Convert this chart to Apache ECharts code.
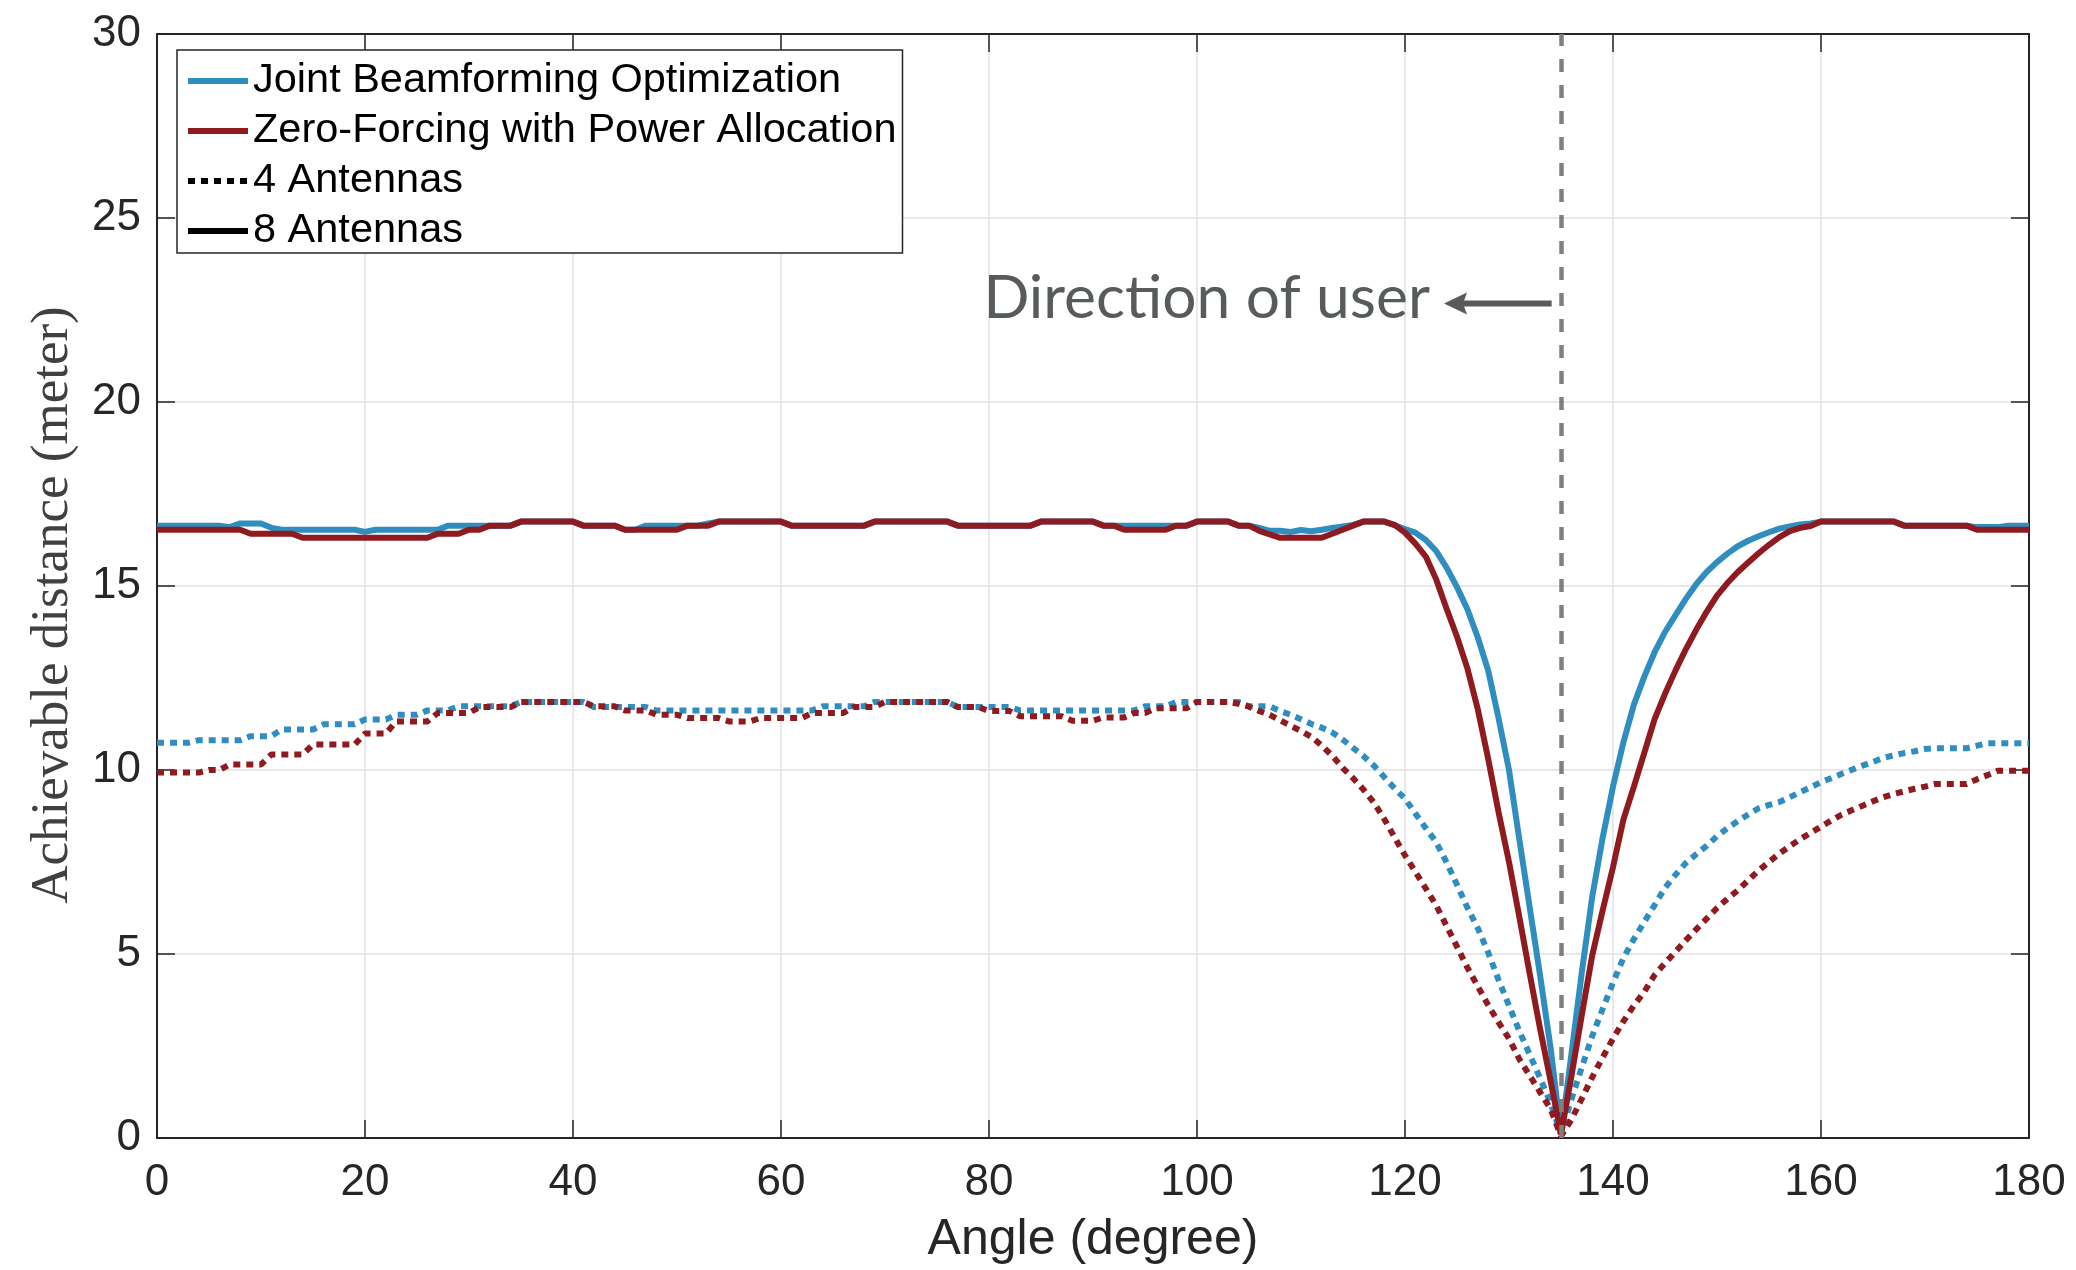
<!DOCTYPE html>
<html>
<head>
<meta charset="utf-8">
<script src="https://cdn.jsdelivr.net/npm/echarts@6/dist/echarts.min.js"></script>
<style>
html, body { margin: 0; padding: 0; background: #fff; }
#chart { width: 2076px; height: 1270px; }
</style>
</head>
<body>
<div id="chart"></div>
<script>
// x grid: one sample per degree, 0 .. 180
const angles = Array.from({ length: 181 }, (_, i) => i)

// Joint Beamforming Optimization, 8 antennas (blue solid)
const jbo8 = [
  16.64, 16.64, 16.64, 16.64, 16.64, 16.64, 16.64, 16.6, 16.7, 16.7,
  16.7, 16.58, 16.53, 16.53, 16.53, 16.53, 16.53, 16.53, 16.53, 16.53,
  16.47, 16.53, 16.53, 16.53, 16.53, 16.53, 16.53, 16.53, 16.64, 16.64,
  16.64, 16.64, 16.64, 16.64, 16.64, 16.75, 16.75, 16.75, 16.75, 16.75,
  16.75, 16.64, 16.64, 16.64, 16.64, 16.53, 16.53, 16.64, 16.64, 16.64,
  16.64, 16.64, 16.64, 16.7, 16.75, 16.75, 16.75, 16.75, 16.75, 16.75,
  16.75, 16.64, 16.64, 16.64, 16.64, 16.64, 16.64, 16.64, 16.64, 16.75,
  16.75, 16.75, 16.75, 16.75, 16.75, 16.75, 16.75, 16.64, 16.64, 16.64,
  16.64, 16.64, 16.64, 16.64, 16.64, 16.75, 16.75, 16.75, 16.75, 16.75,
  16.75, 16.64, 16.64, 16.64, 16.64, 16.64, 16.64, 16.64, 16.64, 16.64,
  16.75, 16.75, 16.75, 16.75, 16.64, 16.64, 16.58, 16.5, 16.5, 16.47,
  16.52, 16.49, 16.53, 16.58, 16.62, 16.66, 16.75, 16.75, 16.75, 16.65,
  16.55, 16.45, 16.25, 15.95, 15.5, 14.97, 14.37, 13.6, 12.7, 11.4,
  10.0, 8.1, 6.25, 4.4, 2.45, 0.1, 2.27, 4.5, 6.55, 8.15,
  9.55, 10.75, 11.77, 12.53, 13.2, 13.75, 14.2, 14.65, 15.05, 15.38,
  15.65, 15.88, 16.08, 16.23, 16.35, 16.46, 16.56, 16.62, 16.67, 16.7,
  16.75, 16.75, 16.75, 16.75, 16.75, 16.75, 16.75, 16.75, 16.64, 16.64,
  16.64, 16.64, 16.64, 16.64, 16.64, 16.6, 16.6, 16.6, 16.64, 16.64,
  16.64
]

// Zero-Forcing with Power Allocation, 8 antennas (red solid)
const zf8 = [
  16.53, 16.53, 16.53, 16.53, 16.53, 16.53, 16.53, 16.53, 16.53, 16.42,
  16.42, 16.42, 16.42, 16.42, 16.31, 16.31, 16.31, 16.31, 16.31, 16.31,
  16.31, 16.31, 16.31, 16.31, 16.31, 16.31, 16.31, 16.42, 16.42, 16.42,
  16.53, 16.53, 16.64, 16.64, 16.64, 16.75, 16.75, 16.75, 16.75, 16.75,
  16.75, 16.64, 16.64, 16.64, 16.64, 16.53, 16.53, 16.53, 16.53, 16.53,
  16.53, 16.64, 16.64, 16.64, 16.75, 16.75, 16.75, 16.75, 16.75, 16.75,
  16.75, 16.64, 16.64, 16.64, 16.64, 16.64, 16.64, 16.64, 16.64, 16.75,
  16.75, 16.75, 16.75, 16.75, 16.75, 16.75, 16.75, 16.64, 16.64, 16.64,
  16.64, 16.64, 16.64, 16.64, 16.64, 16.75, 16.75, 16.75, 16.75, 16.75,
  16.75, 16.64, 16.64, 16.53, 16.53, 16.53, 16.53, 16.53, 16.64, 16.64,
  16.75, 16.75, 16.75, 16.75, 16.64, 16.64, 16.5, 16.4, 16.31, 16.31,
  16.31, 16.31, 16.31, 16.42, 16.53, 16.64, 16.75, 16.75, 16.75, 16.66,
  16.45, 16.15, 15.8, 15.18, 14.38, 13.62, 12.76, 11.65, 10.3, 8.85,
  7.5, 6.0, 4.45, 2.95, 1.55, 0.1, 1.68, 3.34, 4.96, 6.18,
  7.36, 8.65, 9.54, 10.46, 11.38, 12.07, 12.7, 13.28, 13.81, 14.3,
  14.74, 15.08, 15.38, 15.64, 15.89, 16.12, 16.33, 16.49, 16.58, 16.63,
  16.75, 16.75, 16.75, 16.75, 16.75, 16.75, 16.75, 16.75, 16.64, 16.64,
  16.64, 16.64, 16.64, 16.64, 16.64, 16.53, 16.53, 16.53, 16.53, 16.53,
  16.53
]

// Joint Beamforming Optimization, 4 antennas (blue dotted)
const jbo4 = [
  10.74, 10.74, 10.74, 10.74, 10.81, 10.81, 10.81, 10.81, 10.81, 10.92,
  10.92, 10.92, 11.1, 11.1, 11.1, 11.1, 11.24, 11.24, 11.24, 11.24,
  11.37, 11.37, 11.37, 11.5, 11.5, 11.5, 11.62, 11.62, 11.62, 11.73,
  11.73, 11.73, 11.73, 11.73, 11.73, 11.85, 11.85, 11.85, 11.85, 11.85,
  11.85, 11.85, 11.71, 11.71, 11.71, 11.71, 11.71, 11.71, 11.62, 11.62,
  11.62, 11.62, 11.62, 11.62, 11.62, 11.62, 11.62, 11.62, 11.62, 11.62,
  11.62, 11.62, 11.62, 11.62, 11.73, 11.73, 11.73, 11.73, 11.73, 11.85,
  11.85, 11.85, 11.85, 11.85, 11.85, 11.85, 11.85, 11.71, 11.71, 11.71,
  11.71, 11.71, 11.71, 11.62, 11.62, 11.62, 11.62, 11.62, 11.62, 11.62,
  11.62, 11.62, 11.62, 11.62, 11.62, 11.73, 11.73, 11.73, 11.85, 11.85,
  11.85, 11.85, 11.85, 11.85, 11.85, 11.73, 11.73, 11.73, 11.6, 11.5,
  11.38, 11.25, 11.15, 11.02, 10.83, 10.6, 10.38, 10.12, 9.81, 9.5,
  9.22, 8.82, 8.42, 8.04, 7.49, 6.88, 6.26, 5.7, 5.04, 4.29,
  3.6, 2.9, 2.26, 1.62, 0.95, 0.1, 1.05, 1.92, 2.77, 3.5,
  4.22, 4.89, 5.4, 5.87, 6.33, 6.8, 7.15, 7.47, 7.71, 7.94,
  8.2, 8.42, 8.61, 8.79, 8.96, 9.05, 9.13, 9.26, 9.4, 9.53,
  9.67, 9.78, 9.9, 10.01, 10.12, 10.22, 10.33, 10.4, 10.46, 10.51,
  10.57, 10.59, 10.59, 10.59, 10.59, 10.66, 10.73, 10.73, 10.73, 10.73,
  10.73
]

// Zero-Forcing with Power Allocation, 4 antennas (red dotted)
const zf4 = [
  9.93, 9.93, 9.93, 9.93, 9.93, 10.0, 10.0, 10.15, 10.15, 10.15,
  10.15, 10.42, 10.42, 10.42, 10.42, 10.69, 10.69, 10.69, 10.69, 10.69,
  10.99, 10.99, 10.99, 11.32, 11.32, 11.32, 11.32, 11.55, 11.55, 11.55,
  11.55, 11.71, 11.71, 11.71, 11.71, 11.85, 11.85, 11.85, 11.85, 11.85,
  11.85, 11.85, 11.73, 11.73, 11.73, 11.62, 11.62, 11.62, 11.5, 11.5,
  11.5, 11.41, 11.41, 11.41, 11.41, 11.32, 11.32, 11.32, 11.41, 11.41,
  11.41, 11.41, 11.41, 11.55, 11.55, 11.55, 11.55, 11.71, 11.71, 11.71,
  11.85, 11.85, 11.85, 11.85, 11.85, 11.85, 11.85, 11.71, 11.71, 11.71,
  11.6, 11.6, 11.6, 11.46, 11.46, 11.46, 11.46, 11.46, 11.34, 11.34,
  11.34, 11.43, 11.43, 11.43, 11.55, 11.55, 11.68, 11.68, 11.68, 11.68,
  11.85, 11.85, 11.85, 11.85, 11.8, 11.72, 11.6, 11.5, 11.35, 11.2,
  11.06, 10.9, 10.66, 10.39, 10.06, 9.78, 9.47, 9.12, 8.67, 8.17,
  7.68, 7.23, 6.78, 6.32, 5.76, 5.2, 4.63, 4.12, 3.61, 3.14,
  2.7, 2.14, 1.69, 1.24, 0.79, 0.05, 0.5, 1.07, 1.65, 2.19,
  2.7, 3.17, 3.6, 3.97, 4.43, 4.75, 5.06, 5.37, 5.67, 5.96,
  6.25, 6.5, 6.73, 7.0, 7.27, 7.5, 7.73, 7.93, 8.12, 8.29,
  8.46, 8.63, 8.79, 8.91, 9.03, 9.15, 9.26, 9.35, 9.42, 9.49,
  9.55, 9.62, 9.62, 9.62, 9.62, 9.75, 9.86, 9.98, 9.98, 9.98,
  9.98
]

const xTicks = [0, 180, 20]
const yTicks = [0, 30, 5]
const userAngle = 135
const legendNames = ['Joint Beamforming Optimization', 'Zero-Forcing with Power Allocation', '4 Antennas', '8 Antennas']
const noteText = 'Direction of user'
const noteAt = [122.4, 22.8]       // right end of the note, in data units
const arrowFrom = [134.1, 22.68]
const arrowTo = [123.75, 22.68]

const BLUE = '#2f8ebf'
const RED = '#8f1b20'
const INK = '#262626'
const SANS = "'Liberation Sans', Arial, sans-serif"
const DOTS = [7, 6]

function pairs(vals) {
  return vals.map((v, i) => [angles[i], v])
}

function axisBase(range, extra) {
  return Object.assign({
    type: 'value',
    min: range[0],
    max: range[1],
    interval: range[2],
    axisLine: { show: true, onZero: false, lineStyle: { color: INK, width: 2 } },
    axisTick: { show: true, inside: true, length: 18, lineStyle: { color: INK, width: 1.5 } },
    axisLabel: { show: false },
    splitLine: { show: false }
  }, extra)
}

const chart = echarts.init(document.querySelector('#chart'))
chart.setOption({
  animation: false,
  backgroundColor: '#fff',
  grid: { left: 157, right: 47, top: 34, bottom: 126 },
  legend: {
    orient: 'vertical',
    left: 177,
    top: 50,
    padding: [10, 6, 1, 8],
    itemWidth: 60,
    itemHeight: 20,
    itemGap: 8,
    selectedMode: false,
    backgroundColor: '#fff',
    borderColor: INK,
    borderWidth: 1.5,
    borderRadius: 0,
    itemStyle: { opacity: 0 },
    lineStyle: { width: 6 },
    textStyle: { fontFamily: SANS, fontSize: 41.5, lineHeight: 41, color: '#000' },
    data: legendNames
  },
  xAxis: [
    axisBase(xTicks, {
      position: 'bottom',
      axisLabel: { show: true, fontFamily: SANS, fontSize: 44, lineHeight: 44, color: INK, margin: 23 },
      splitLine: { show: true, lineStyle: { color: '#e0e0e0', width: 1.5 } },
      name: 'Angle (degree)',
      nameLocation: 'middle',
      nameGap: 77,
      nameTextStyle: { fontFamily: SANS, fontSize: 50, lineHeight: 50, color: INK }
    }),
    axisBase(xTicks, { position: 'top' })
  ],
  yAxis: [
    axisBase(yTicks, {
      position: 'left',
      axisLabel: { show: true, fontFamily: SANS, fontSize: 44, color: INK, margin: 16 },
      splitLine: { show: true, lineStyle: { color: '#e0e0e0', width: 1.5 } },
      name: 'Achievable distance (meter)',
      nameLocation: 'middle',
      nameGap: 77,
      nameTextStyle: {
        fontFamily: "'Liberation Serif', 'Times New Roman', serif",
        fontSize: 53, lineHeight: 53, color: '#404040',
        padding: [0, 38, 0, 0]
      }
    }),
    axisBase(yTicks, { position: 'right' })
  ],
  series: [
    {
      name: 'JBO 4 Antennas', type: 'line', data: pairs(jbo4), symbol: 'none', z: 2,
      lineStyle: { color: BLUE, width: 6, type: DOTS, cap: 'butt' }
    },
    {
      name: 'ZF 4 Antennas', type: 'line', data: pairs(zf4), symbol: 'none', z: 2,
      lineStyle: { color: RED, width: 6, type: DOTS, cap: 'butt' }
    },
    {
      name: legendNames[0], type: 'line', data: pairs(jbo8), symbol: 'none', z: 3,
      color: BLUE, lineStyle: { color: BLUE, width: 6 }
    },
    {
      name: legendNames[1], type: 'line', data: pairs(zf8), symbol: 'none', z: 3,
      color: RED, lineStyle: { color: RED, width: 6 }
    },
    {
      name: legendNames[2], type: 'line', data: [], symbol: 'none',
      color: '#000', lineStyle: { color: '#000', width: 6, type: DOTS, cap: 'butt' }
    },
    {
      name: legendNames[3], type: 'line', data: [], symbol: 'none', z: 5,
      color: '#000', lineStyle: { color: '#000', width: 6 },
      markLine: {
        silent: true,
        symbol: 'none',
        label: { show: false },
        lineStyle: { color: '#7f7f7f', width: 4.5, type: [13, 13] },
        data: [{ xAxis: userAngle }]
      }
    }
  ]
})

// note text and arrow, anchored to data coordinates
const pos = p => chart.convertToPixel({ xAxisIndex: 0, yAxisIndex: 0 }, p)
const [nx, ny] = pos(noteAt)
const [ax1, ay] = pos(arrowFrom)
const [ax2] = pos(arrowTo)
chart.setOption({
  graphic: [
    {
      type: 'text', x: nx, y: ny, z: 10,
      style: {
        text: noteText, fontFamily: 'Lato', fontSize: 60.5, fill: '#575b5b',
        align: 'right', verticalAlign: 'middle'
      }
    },
    {
      type: 'line', z: 10,
      shape: { x1: ax1, y1: ay, x2: ax2 + 18, y2: ay },
      style: { stroke: '#575b5b', lineWidth: 6 }
    },
    {
      type: 'polygon', z: 10,
      shape: { points: [[ax2, ay], [ax2 + 23, ay - 11], [ax2 + 19, ay], [ax2 + 23, ay + 11]] },
      style: { fill: '#575b5b' }
    }
  ]
})
</script>
</body>
</html>
